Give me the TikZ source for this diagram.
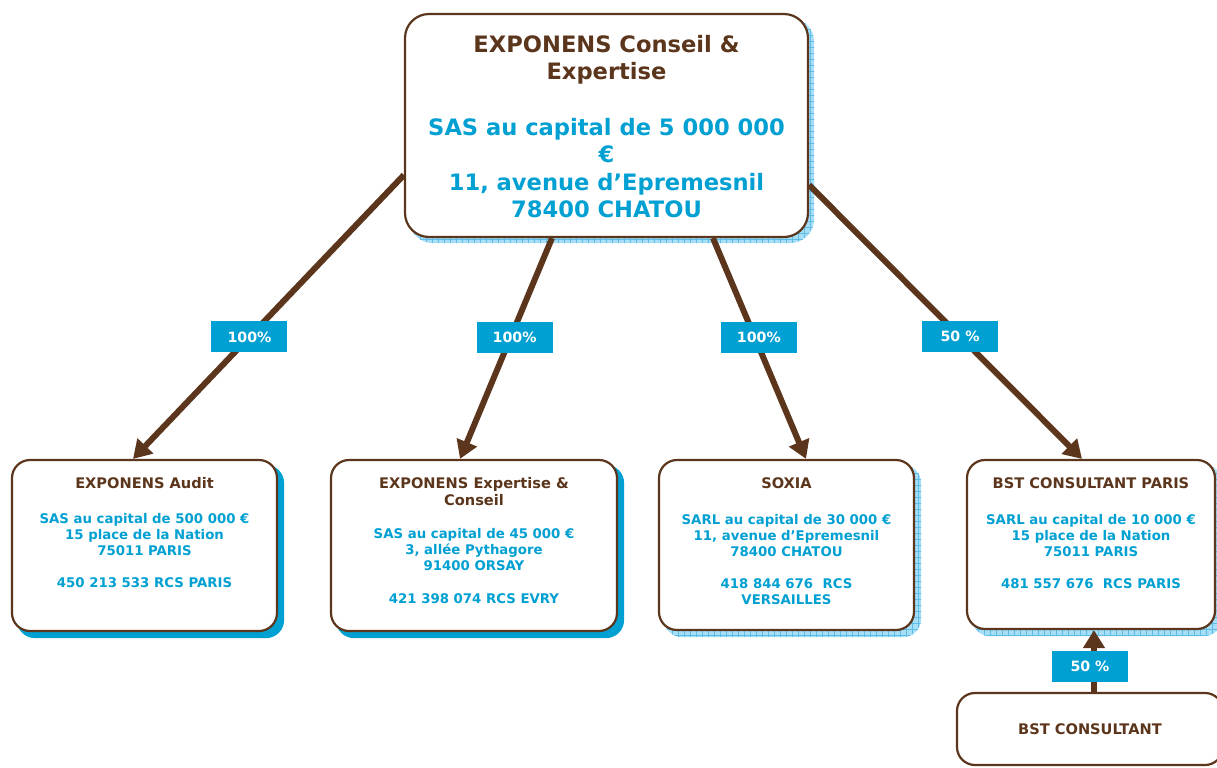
\documentclass[tikz,border=0pt]{standalone}
\usepackage{fontspec}
\setmainfont{DejaVu Sans}
\usetikzlibrary{arrows.meta,backgrounds,patterns}
\definecolor{brownline}{RGB}{92,54,28}
\definecolor{expblue}{RGB}{0,160,210}
\definecolor{shadelite}{RGB}{165,222,246}
\definecolor{shadegrid}{RGB}{95,188,230}
\tikzset{
  box/.style={draw=brownline, line width=1.1pt, rounded corners=9pt, fill=white, inner sep=0pt},
  solidshade/.style={fill=expblue, rounded corners=9pt},
  gridshade/.style={fill=shadelite, rounded corners=9pt, postaction={pattern=grid, pattern color=shadegrid}},
  bigtext/.style={align=center, inner sep=0pt, text=expblue, font=\fontsize{11.3}{13.75}\selectfont\bfseries},
  smalltext/.style={align=center, inner sep=0pt, text=expblue, font=\fontsize{6.65}{8}\selectfont\bfseries},
  pct/.style={fill=expblue, text=white, inner sep=0pt, minimum width=38pt, minimum height=15.5pt, font=\fontsize{7.1}{8}\selectfont\bfseries},
  link/.style={draw=brownline, line width=3pt, -{Triangle[length=9pt,width=10.5pt]}}
}
\newcommand{\boxtitle}{\fontsize{7.3}{8}\selectfont\color{brownline}}
\newcommand{\boxbody}{\fontsize{6.65}{8}\selectfont}
\begin{document}
\begin{tikzpicture}[x=0.5pt,y=-0.5pt]
  \useasboundingbox (0,0) rectangle (1217,767);
  \clip (0,0) rectangle (1217,767);

  \node[box, rounded corners=12pt, minimum width=201.5pt, minimum height=111.5pt] at (606.5,125.5) (top){};
  \node[box, minimum width=132.5pt, minimum height=85.5pt] at (144.5,545.5) (audit){};
  \node[box, minimum width=143pt, minimum height=85.5pt] at (474,545.5) (expert){};
  \node[box, minimum width=127.5pt, minimum height=85pt] at (786.5,545) (soxia){};
  \node[box, minimum width=124pt, minimum height=84.5pt] at (1091,544.5) (bstp){};
  \node[box, minimum width=133pt, minimum height=36pt] at (1090,729) (bst){};

  % shadows
  \begin{scope}[on background layer]
    \fill[gridshade, rounded corners=12pt] ([shift={(2.5pt,-2.5pt)}]top.south west) rectangle ([shift={(2.5pt,-2.5pt)}]top.north east);
    \fill[solidshade] ([shift={(3pt,-3pt)}]audit.south west) rectangle ([shift={(3pt,-3pt)}]audit.north east);
    \fill[solidshade] ([shift={(3pt,-3pt)}]expert.south west) rectangle ([shift={(3pt,-3pt)}]expert.north east);
    \fill[gridshade] ([shift={(3pt,-3pt)}]soxia.south west) rectangle ([shift={(3pt,-3pt)}]soxia.north east);
    \fill[gridshade] ([shift={(3pt,-3pt)}]bstp.south west) rectangle ([shift={(3pt,-3pt)}]bstp.north east);
  \end{scope}

  \node[bigtext, anchor=north] at ([yshift=-11pt]top.north) (toptext){\color{brownline}EXPONENS Conseil \&\\
    \color{brownline}Expertise\\[14pt]
    SAS au capital de 5 000 000\\ €\\ 11, avenue d’Epremesnil\\ 78400 CHATOU};

  \node[smalltext, anchor=north] at ([yshift=-9pt]audit.north) (audittext){\boxtitle EXPONENS Audit\\[9.5pt]
    \boxbody SAS au capital de 500 000 €\\ 15 place de la Nation\\ 75011 PARIS\\[8pt]
    450 213 533 RCS PARIS};
  \node[smalltext, anchor=north] at ([yshift=-9pt]expert.north) (experttext){\boxtitle EXPONENS Expertise \&\\[0.5pt] \boxtitle Conseil\\[8.5pt]
    \boxbody SAS au capital de 45 000 €\\ 3, allée Pythagore\\ 91400 ORSAY\\[8.5pt]
    421 398 074 RCS EVRY};
  \node[smalltext, anchor=north] at ([yshift=-9pt]soxia.north) (soxiatext){\boxtitle SOXIA\\[10pt]
    \boxbody SARL au capital de 30 000 €\\ 11, avenue d’Epremesnil\\ 78400 CHATOU\\[8pt]
    418 844 676~ RCS\\ VERSAILLES};
  \node[smalltext, anchor=north] at ([yshift=-9pt]bstp.north) (bstptext){\boxtitle BST CONSULTANT PARIS\\[10pt]
    \boxbody SARL au capital de 10 000 €\\ 15 place de la Nation\\ 75011 PARIS\\[8pt]
    481 557 676~ RCS PARIS};
  \node[smalltext] at (bst.center) (bsttext){\boxtitle BST CONSULTANT};

  \draw[link] ([yshift=-24.75pt]top.west) -- node[pct, pos=0.57]{100\%} ([xshift=-5.75pt]audit.north);
  \draw[link] ([xshift=-27.25pt]top.south) -- node[pct, pos=0.45, xshift=2pt]{100\%} ([xshift=-7pt]expert.north);
  \draw[link] ([xshift=53.25pt]top.south) -- node[pct, pos=0.45, xshift=2pt]{100\%} ([xshift=9.75pt]soxia.north);
  \draw[link] ([yshift=-29.75pt]top.east) -- node[pct, pos=0.553]{50 \%} ([xshift=-4.5pt]bstp.north);
  \draw[link] ([xshift=2pt]bst.north) -- node[pct, pos=0.41, xshift=-2pt]{50 \%} ([xshift=1.5pt]bstp.south);
\end{tikzpicture}
\end{document}
